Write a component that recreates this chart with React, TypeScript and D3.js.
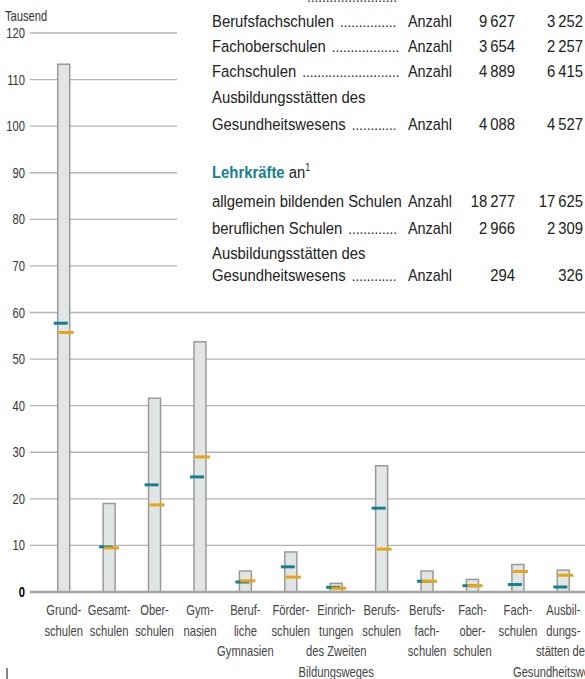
import React, { useEffect, useRef } from "react";
import * as d3 from "d3";

const categories: string[][] = [
  ["Grund-", "schulen"],
  ["Gesamt-", "schulen"],
  ["Ober-", "schulen"],
  ["Gym-", "nasien"],
  ["Beruf-", "liche", "Gymnasien"],
  ["Förder-", "schulen"],
  ["Einrich-", "tungen", "des Zweiten", "Bildungsweges"],
  ["Berufs-", "schulen"],
  ["Berufs-", "fach-", "schulen"],
  ["Fach-", "ober-", "schulen"],
  ["Fach-", "schulen"],
  ["Ausbil-", "dungs-", "stätten des", "Gesundheitswesens"],
];
const barValues = [113.3, 19.0, 41.6, 53.7, 4.5, 8.6, 1.85, 27.1, 4.5, 2.7, 5.9, 4.7];
const tealValues = [57.7, 9.7, 23.0, 24.7, 2.15, 5.4, 1.0, 18.0, 2.3, 1.35, 1.6, 1.07];
const orangeValues = [55.7, 9.45, 18.7, 29.0, 2.4, 3.2, 0.8, 9.2, 2.3, 1.35, 4.4, 3.6];
const yTicks = [0, 10, 20, 30, 40, 50, 60, 70, 80, 90, 100, 110, 120];

type Row = { label: string[]; unit: string; a: string; b: string; noDots?: boolean };
const tableRowsTop: Row[] = [
  { label: ["Berufsfachschulen"], unit: "Anzahl", a: "9\u2009627", b: "3\u2009252" },
  { label: ["Fachoberschulen"], unit: "Anzahl", a: "3\u2009654", b: "2\u2009257" },
  { label: ["Fachschulen"], unit: "Anzahl", a: "4\u2009889", b: "6\u2009415" },
  { label: ["Ausbildungsstätten des", "Gesundheitswesens"], unit: "Anzahl", a: "4\u2009088", b: "4\u2009527" },
];
const tableRowsBottom: Row[] = [
  { label: ["allgemein bildenden Schulen"], unit: "Anzahl", a: "18\u2009277", b: "17\u2009625", noDots: true },
  { label: ["beruflichen Schulen"], unit: "Anzahl", a: "2\u2009966", b: "2\u2009309" },
  { label: ["Ausbildungsstätten des", "Gesundheitswesens"], unit: "Anzahl", a: "294", b: "326" },
];

const FONT = "'Liberation Sans', Arial, sans-serif";
const SX = 0.8;
const TSX = 0.9;
const TEAL = "#14808f";
const ORANGE = "#e6a614";

export default function App() {
  const ref = useRef<SVGSVGElement>(null);
  useEffect(() => {
    const svg = d3.select(ref.current);
    svg.selectAll("*").remove();
    const W = 585;
    const y = d3.scaleLinear().domain([0, 120]).range([592, 33]);
    const x = d3
      .scaleBand<number>()
      .domain(d3.range(categories.length))
      .range([41, 586])
      .paddingInner(0)
      .paddingOuter(0);
    const cx = (i: number) => (x(i) as number) + x.bandwidth() / 2;

    const txt = (
      g: d3.Selection<any, any, any, any>,
      tx: number,
      ty: number,
      s: string,
      size: number,
      anchor = "start",
      fill = "#333",
      weight = "normal",
      sx = SX
    ) =>
      g
        .append("text")
        .attr("transform", `translate(${tx},${ty}) scale(${sx},1)`)
        .attr("text-anchor", anchor)
        .attr("font-family", FONT)
        .attr("font-size", size)
        .attr("font-weight", weight)
        .attr("fill", fill)
        .text(s);

    // grid
    svg
      .append("g")
      .selectAll("line")
      .data(yTicks.filter((t) => t > 0))
      .join("line")
      .attr("x1", 30)
      .attr("x2", W)
      .attr("y1", (d) => y(d))
      .attr("y2", (d) => y(d))
      .attr("stroke", "#b3b3b3")
      .attr("stroke-width", 1.3);

    // table background
    svg.append("rect").attr("x", 177).attr("y", 0).attr("width", W - 177).attr("height", 292).attr("fill", "#fff");

    // y tick labels
    const yl = svg.append("g");
    yTicks.forEach((d) => {
      txt(yl, 25, y(d) + 5, String(d), 14, "end", d === 0 ? "#000" : "#333", d === 0 ? "bold" : "normal");
    });
    txt(svg, 5, 21, "Tausend", 14, "start", "#333");

    // bars
    const bw = 12;
    svg
      .append("g")
      .selectAll("rect")
      .data(barValues)
      .join("rect")
      .attr("x", (_, i) => cx(i) - bw / 2)
      .attr("y", (d) => y(d))
      .attr("width", bw)
      .attr("height", (d) => y(0) - y(d))
      .attr("fill", "#e2e5e6")
      .attr("stroke", "#9a9a9a")
      .attr("stroke-width", 1.5);

    // baseline
    svg
      .append("line")
      .attr("x1", 30)
      .attr("x2", W)
      .attr("y1", y(0))
      .attr("y2", y(0))
      .attr("stroke", "#a3a3a3")
      .attr("stroke-width", 2.5);

    // markers
    svg
      .append("g")
      .selectAll("line")
      .data(tealValues)
      .join("line")
      .attr("x1", (_, i) => cx(i) - 10)
      .attr("x2", (_, i) => cx(i) + 4)
      .attr("y1", (d) => y(d))
      .attr("y2", (d) => y(d))
      .attr("stroke", TEAL)
      .attr("stroke-width", 3);
    svg
      .append("g")
      .selectAll("line")
      .data(orangeValues)
      .join("line")
      .attr("x1", (_, i) => cx(i) - 5)
      .attr("x2", (_, i) => cx(i) + 10)
      .attr("y1", (d) => y(d))
      .attr("y2", (d) => y(d))
      .attr("stroke", ORANGE)
      .attr("stroke-width", 3);

    // x labels
    const xl = svg.append("g");
    categories.forEach((lines, i) => {
      lines.forEach((ln, j) => {
        txt(xl, cx(i), 615 + j * 20.7, ln, 14, "middle", "#444");
      });
    });

    // small mark bottom-left
    svg.append("line").attr("x1", 7).attr("x2", 7).attr("y1", 668).attr("y2", 679).attr("stroke", "#333").attr("stroke-width", 1.2);

    // table
    const tg = svg.append("g");
    const labelX = 212;
    const unitX = 408;
    const colA = 515;
    const colB = 583;
    const dotsEnd = 400;
    const ink = "#222";
    const FS = 16.5;
    const addRow = (row: Row, baseY: number, lh: number) => {
      row.label.forEach((l, k) => {
        const t = txt(tg, labelX, baseY + k * lh, l, FS, "start", ink, "normal", TSX);
        if (k === row.label.length - 1 && !row.noDots) {
          const w = (t.node() as SVGTextElement).getComputedTextLength() * TSX;
          const start = labelX + w + 6;
          const dt = txt(tg, start, baseY + k * lh, ".", 15, "start", ink, "normal", TSX);
          const dw = ((dt.node() as SVGTextElement).getComputedTextLength() || 4) * TSX;
          const n = Math.max(0, Math.floor((dotsEnd - start) / dw));
          dt.text(".".repeat(n));
        }
      });
      const ly = baseY + (row.label.length - 1) * lh;
      txt(tg, unitX, ly, row.unit, 16, "start", ink, "normal", TSX);
      txt(tg, colA, ly, row.a, FS, "end", ink, "normal", TSX);
      txt(tg, colB, ly, row.b, FS, "end", ink, "normal", TSX);
    };
    // partially hidden row above (only its dotted leader shows)
    txt(tg, 307, 2, ".".repeat(24), 15, "start", ink, "normal", TSX);
    const topY = [27, 52, 77, 103];
    tableRowsTop.forEach((r, i) => addRow(r, topY[i], 27));
    const head = tg
      .append("text")
      .attr("transform", `translate(${labelX},178) scale(${TSX},1)`)
      .attr("font-family", FONT)
      .attr("font-size", FS)
      .attr("fill", ink);
    head.append("tspan").attr("fill", TEAL).attr("font-weight", "bold").text("Lehrkräfte");
    head.append("tspan").text(" an");
    head.append("tspan").attr("font-size", 10).attr("dy", -7).text("1");
    const botY = [207, 234, 259];
    tableRowsBottom.forEach((r, i) => addRow(r, botY[i], 22));
  }, []);
  return (
    <svg
      ref={ref}
      width={585}
      height={679}
      style={{ position: "absolute", left: 0, top: 0, background: "#fff" }}
    />
  );
}
